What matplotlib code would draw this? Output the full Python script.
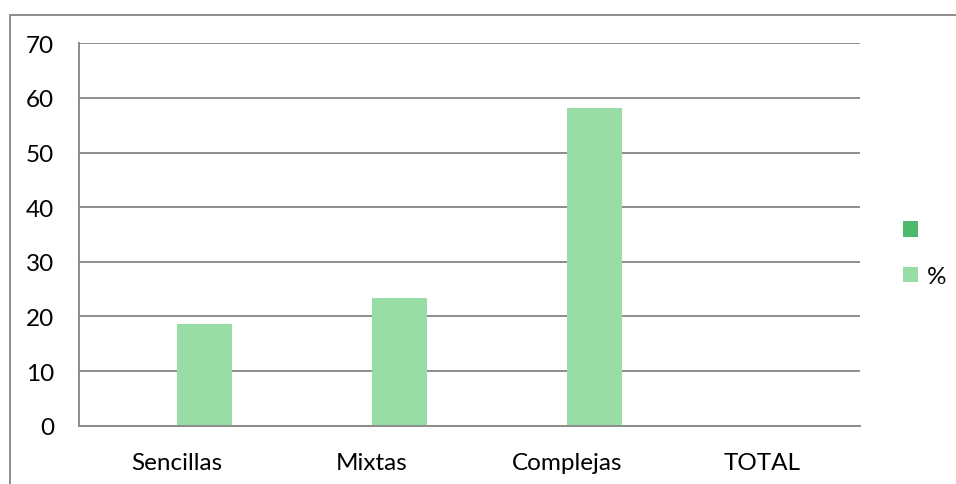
import matplotlib
matplotlib.use("Agg")
import matplotlib.pyplot as plt
import numpy as np
from matplotlib.patches import Rectangle

categories = ["Sencillas", "Mixtas", "Complejas", "TOTAL"]
series1_label = " "
series1 = [0, 0, 0, 0]
series2_label = "%"
series2 = [18.6, 23.3, 58.1, 0]
yticks = [0, 10, 20, 30, 40, 50, 60, 70]

plt.rcParams['font.family'] = ['Lato', 'DejaVu Sans']

fig = plt.figure(figsize=(9.56, 4.85), dpi=100)
ax = fig.add_axes([79/956, 1-426.7/485, (860-79)/956, (426.7-44.3)/485])

x = np.arange(len(categories))
w = 55/195.25
dark = "#4db96b"
light = "#98dca6"
ax.bar(x - w/2, series1, width=w, color=dark, label=series1_label)
ax.bar(x + w/2, series2, width=w, color=light, label=series2_label)

fs = 17.5
ax.set_xlim(-0.5, len(categories) - 0.5)
ax.set_ylim(0, 70)
ax.set_yticks(yticks)
ax.set_xticks(x)
ax.set_xticklabels(categories)
ax.tick_params(axis='both', length=0, labelsize=fs, colors='black')
ax.tick_params(axis='y', pad=18)
ax.tick_params(axis='x', pad=19)
ax.grid(axis='y', color='#8c8c8c', linewidth=1.4)
ax.set_axisbelow(True)
for s in ['top', 'right']:
    ax.spines[s].set_visible(False)
ax.spines['left'].set_color('#8c8c8c')
ax.spines['left'].set_linewidth(1.4)
ax.spines['bottom'].set_color('#8c8c8c')
ax.spines['bottom'].set_linewidth(1.4)

handles, labels = ax.get_legend_handles_labels()
leg = fig.legend(handles, labels, loc='center left', bbox_to_anchor=(903/956, 1-255/485),
                 frameon=False, fontsize=fs, handlelength=0.62, handleheight=0.62,
                 handletextpad=0.35, labelspacing=1.0, borderpad=0, borderaxespad=0)

fig.patches.append(Rectangle((10/956, -0.1), 1.2, 1-15.7/485+0.1, transform=fig.transFigure,
                             fill=False, edgecolor='#8c8c8c', linewidth=1.4))

fig.savefig("out.png", dpi=100)
